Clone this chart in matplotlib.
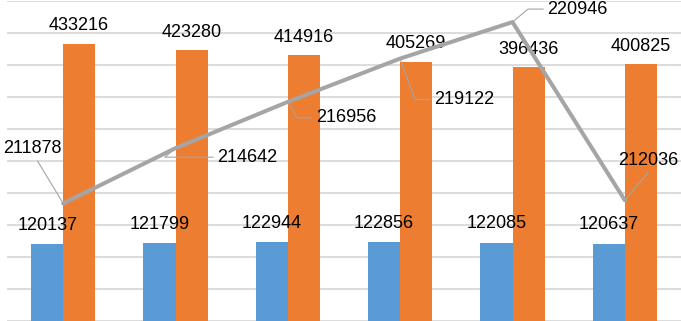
import matplotlib
matplotlib.use("Agg")
import matplotlib.pyplot as plt
import numpy as np

categories = ["1", "2", "3", "4", "5", "6"]
blue_vals = [120137, 121799, 122944, 122856, 122085, 120637]
orange_vals = [433216, 423280, 414916, 405269, 396436, 400825]
line_vals = [211878, 214642, 216956, 219122, 220946, 212036]

BLUE = "#5B9BD5"
ORANGE = "#ED7D31"
GREY = "#A5A5A5"
GRID = "#D9D9D9"

plt.rcParams["font.family"] = ["Liberation Sans", "DejaVu Sans"]

fig = plt.figure(figsize=(6.81, 3.21), dpi=100)
ax = fig.add_axes([7 / 681, 0, 674 / 681, 320 / 321])
x = np.arange(len(categories))
w = 0.285

ax.bar(x - w / 2, blue_vals, w, color=BLUE, zorder=2)
ax.bar(x + w / 2, orange_vals, w, color=ORANGE, zorder=2)
ax.set_xlim(-0.5, len(categories) - 0.5)
ax.set_ylim(0, 500000)
ax.set_yticks(np.arange(0, 500001, 50000))
ax.yaxis.grid(True, color=GRID, lw=1.3, zorder=0)
ax.set_axisbelow(True)
ax.tick_params(left=False, bottom=False, right=False, top=False, length=0,
               labelleft=False, labelbottom=False)
for s in ax.spines.values():
    s.set_visible(False)

for xi, v in zip(x, blue_vals):
    ax.annotate(f"{v}", (xi - w / 2, v), xytext=(0, 19), textcoords="offset pixels",
                ha="center", va="center", fontsize=13, color="black", zorder=5)
for xi, v in zip(x, orange_vals):
    ax.annotate(f"{v}", (xi + w / 2, v), xytext=(0, 18), textcoords="offset pixels",
                ha="center", va="center", fontsize=13, color="black", zorder=5)

ax2 = ax.twinx()
ax2.set_ylim(206000, 222000)
ax2.set_axis_off()
ax2.plot(x, line_vals, color=GREY, lw=2.9, solid_capstyle="round", zorder=3)

# label offsets (pixels) and alignment for the line callouts
offsets = [(-31, 55, "center"), (42, -9, "left"), (28, -16, "left"),
           (34, -41, "left"), (35, 13, "left"), (-7, 40, "left")]
conns = ["arc3", "angle,angleA=0,angleB=40", "angle,angleA=0,angleB=-60",
         "angle,angleA=0,angleB=-70", "angle,angleA=0,angleB=40", "angle,angleA=0,angleB=50"]
relposs = [(0.55, 0.0), (0.0, 0.5), (0.0, 0.5), (0.0, 0.5), (0.0, 0.5), (0.6, 0.0)]
for i, (xi, v) in enumerate(zip(x, line_vals)):
    dx, dy, ha = offsets[i]
    ax2.annotate(f"{v}", (xi, v), xytext=(dx, dy), textcoords="offset pixels",
                 ha=ha, va="center", fontsize=13, color="black", zorder=6,
                 arrowprops=dict(arrowstyle="-", color=GREY, lw=0.8, shrinkA=1, shrinkB=0,
                                 connectionstyle=conns[i], relpos=relposs[i]))

fig.savefig("out.png", dpi=100)
